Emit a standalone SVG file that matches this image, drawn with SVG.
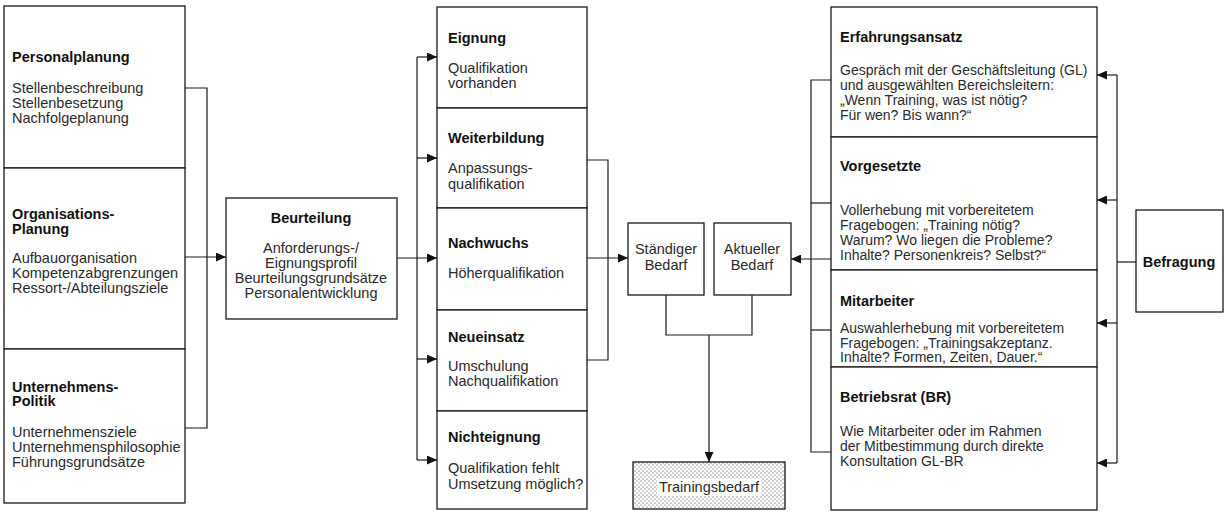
<svg xmlns="http://www.w3.org/2000/svg" width="1224" height="513" viewBox="0 0 1224 513">
  <style>
    .box { fill: #fff; stroke: #1a1a1a; stroke-width: 1.3; }
    .h { font-family: "Liberation Sans", Arial, sans-serif; font-weight: bold; font-size: 14.5px; fill: #111; }
    .t { font-family: "Liberation Sans", Arial, sans-serif; font-size: 14.5px; fill: #2a2a2a; }
    .r { font-size: 14px; }
    .c { text-anchor: middle; }
    .wire { fill: none; stroke: #1a1a1a; stroke-width: 1.2; }
    .arr { fill: none; stroke: #1a1a1a; stroke-width: 1.2; marker-end: url(#head); }
  </style>
  <defs>
    <marker id="head" viewBox="0 0 10 9" refX="10" refY="4.5" markerWidth="10" markerHeight="9" markerUnits="userSpaceOnUse" orient="auto">
      <path d="M0,0 L10,4.5 L0,9 Z" fill="#111"/>
    </marker>
    <!-- fine dot screen for the result box -->
    <pattern id="dots" width="4" height="4" patternUnits="userSpaceOnUse">
      <rect width="4" height="4" fill="#fff"/>
      <circle cx="1" cy="1" r="0.6" fill="#333"/>
      <circle cx="3" cy="3" r="0.6" fill="#333"/>
    </pattern>
  </defs>
  <rect width="1224" height="513" fill="#fff"/>

  <!-- left column: planning inputs -->
  <g id="personalplanung">
    <rect class="box" x="4" y="6" width="181" height="162"/>
    <text class="h" x="12" y="62">Personalplanung</text>
    <text class="t" x="12" y="93">Stellenbeschreibung</text>
    <text class="t" x="12" y="108">Stellenbesetzung</text>
    <text class="t" x="12" y="123">Nachfolgeplanung</text>
  </g>
  <g id="organisationsplanung">
    <rect class="box" x="4" y="168" width="181" height="181"/>
    <text class="h" x="12" y="219">Organisations-</text>
    <text class="h" x="12" y="234">Planung</text>
    <text class="t" x="12" y="263">Aufbauorganisation</text>
    <text class="t" x="12" y="278">Kompetenzabgrenzungen</text>
    <text class="t" x="12" y="293">Ressort-/Abteilungsziele</text>
  </g>
  <g id="unternehmenspolitik">
    <rect class="box" x="4" y="349" width="181" height="154"/>
    <text class="h" x="12" y="392">Unternehmens-</text>
    <text class="h" x="12" y="406">Politik</text>
    <text class="t" x="12" y="437">Unternehmensziele</text>
    <text class="t" x="12" y="452">Unternehmensphilosophie</text>
    <text class="t" x="12" y="467">Führungsgrundsätze</text>
  </g>

  <!-- assessment -->
  <g id="beurteilung">
    <rect class="box" x="226" y="198" width="171" height="121"/>
    <text class="h c" x="311" y="223">Beurteilung</text>
    <text class="t c" x="311" y="253">Anforderungs-/</text>
    <text class="t c" x="311" y="268">Eignungsprofil</text>
    <text class="t c" x="311" y="283">Beurteilungsgrundsätze</text>
    <text class="t c" x="311" y="298">Personalentwicklung</text>
  </g>

  <!-- middle column: assessment outcomes -->
  <g id="eignung">
    <rect class="box" x="437" y="7" width="150" height="101"/>
    <text class="h" x="448" y="43">Eignung</text>
    <text class="t" x="448" y="73">Qualifikation</text>
    <text class="t" x="448" y="88">vorhanden</text>
  </g>
  <g id="weiterbildung">
    <rect class="box" x="437" y="108" width="150" height="100"/>
    <text class="h" x="448" y="143">Weiterbildung</text>
    <text class="t" x="448" y="173">Anpassungs-</text>
    <text class="t" x="448" y="189">qualifikation</text>
  </g>
  <g id="nachwuchs">
    <rect class="box" x="437" y="208" width="150" height="102"/>
    <text class="h" x="448" y="248">Nachwuchs</text>
    <text class="t" x="448" y="278">Höherqualifikation</text>
  </g>
  <g id="neueinsatz">
    <rect class="box" x="437" y="310" width="150" height="101"/>
    <text class="h" x="448" y="342">Neueinsatz</text>
    <text class="t" x="448" y="371">Umschulung</text>
    <text class="t" x="448" y="386">Nachqualifikation</text>
  </g>
  <g id="nichteignung">
    <rect class="box" x="437" y="411" width="150" height="98"/>
    <text class="h" x="448" y="442">Nichteignung</text>
    <text class="t" x="448" y="473">Qualifikation fehlt</text>
    <text class="t" x="448" y="489">Umsetzung möglich?</text>
  </g>

  <!-- demand boxes -->
  <g id="staendiger-bedarf">
    <rect class="box" x="628" y="223" width="76" height="72"/>
    <text class="t c" x="666" y="254">Ständiger</text>
    <text class="t c" x="666" y="270">Bedarf</text>
  </g>
  <g id="aktueller-bedarf">
    <rect class="box" x="714" y="223" width="77" height="72"/>
    <text class="t c" x="752" y="254">Aktueller</text>
    <text class="t c" x="752" y="270">Bedarf</text>
  </g>
  <g id="trainingsbedarf">
    <rect x="633" y="462" width="152" height="47" fill="url(#dots)" stroke="#1a1a1a" stroke-width="1.3"/>
    <rect x="657" y="479" width="104" height="17" fill="#fff"/>
    <text class="t c" x="709" y="492">Trainingsbedarf</text>
  </g>

  <!-- right column: survey groups -->
  <g id="erfahrungsansatz">
    <rect class="box" x="831" y="7" width="266" height="130"/>
    <text class="h" x="840" y="42">Erfahrungsansatz</text>
    <text class="t r" x="840" y="75">Gespräch mit der Geschäftsleitung (GL)</text>
    <text class="t r" x="840" y="90">und ausgewählten Bereichsleitern:</text>
    <text class="t r" x="840" y="105">„Wenn Training, was ist nötig?</text>
    <text class="t r" x="840" y="120">Für wen? Bis wann?“</text>
  </g>
  <g id="vorgesetzte">
    <rect class="box" x="831" y="137" width="266" height="133"/>
    <text class="h" x="840" y="171">Vorgesetzte</text>
    <text class="t r" x="840" y="215">Vollerhebung mit vorbereitetem</text>
    <text class="t r" x="840" y="230">Fragebogen: „Training nötig?</text>
    <text class="t r" x="840" y="245">Warum? Wo liegen die Probleme?</text>
    <text class="t r" x="840" y="260">Inhalte? Personenkreis? Selbst?“</text>
  </g>
  <g id="mitarbeiter">
    <rect class="box" x="831" y="270" width="266" height="97"/>
    <text class="h" x="840" y="306">Mitarbeiter</text>
    <text class="t r" x="840" y="333">Auswahlerhebung mit vorbereitetem</text>
    <text class="t r" x="840" y="348">Fragebogen: „Trainingsakzeptanz.</text>
    <text class="t r" x="840" y="362">Inhalte? Formen, Zeiten, Dauer.“</text>
  </g>
  <g id="betriebsrat">
    <rect class="box" x="831" y="367" width="266" height="143"/>
    <text class="h" x="840" y="402">Betriebsrat (BR)</text>
    <text class="t r" x="840" y="436">Wie Mitarbeiter oder im Rahmen</text>
    <text class="t r" x="840" y="451">der Mitbestimmung durch direkte</text>
    <text class="t r" x="840" y="466">Konsultation GL-BR</text>
  </g>

  <g id="befragung">
    <rect class="box" x="1136" y="210" width="87" height="102"/>
    <text class="h c" x="1179" y="267">Befragung</text>
  </g>

  <!-- connectors -->
  <g id="connectors">
    <path class="wire" d="M185,88 H207 V428 H185"/>
    <path class="arr" d="M185,257 H226"/>

    <path class="arr" d="M397,258 H437"/>
    <path class="wire" d="M417,57 V460"/>
    <path class="arr" d="M417,57 H437"/>
    <path class="arr" d="M417,158 H437"/>
    <path class="arr" d="M417,359 H437"/>
    <path class="arr" d="M417,460 H437"/>

    <path class="wire" d="M587,160 H608 V360 H587"/>
    <path class="arr" d="M587,258 H628"/>

    <path class="wire" d="M666,295 V335 H752 V295"/>
    <path class="arr" d="M709,335 V462"/>

    <path class="wire" d="M831,80 H811 V452 H831"/>
    <path class="wire" d="M811,203 H831"/>
    <path class="wire" d="M811,330 H831"/>
    <path class="arr" d="M831,259 H791"/>

    <path class="wire" d="M1136,262 H1117"/>
    <path class="wire" d="M1117,75 V463"/>
    <path class="arr" d="M1117,75 H1097"/>
    <path class="arr" d="M1117,200 H1097"/>
    <path class="arr" d="M1117,323 H1097"/>
    <path class="arr" d="M1117,463 H1097"/>
  </g>
</svg>
